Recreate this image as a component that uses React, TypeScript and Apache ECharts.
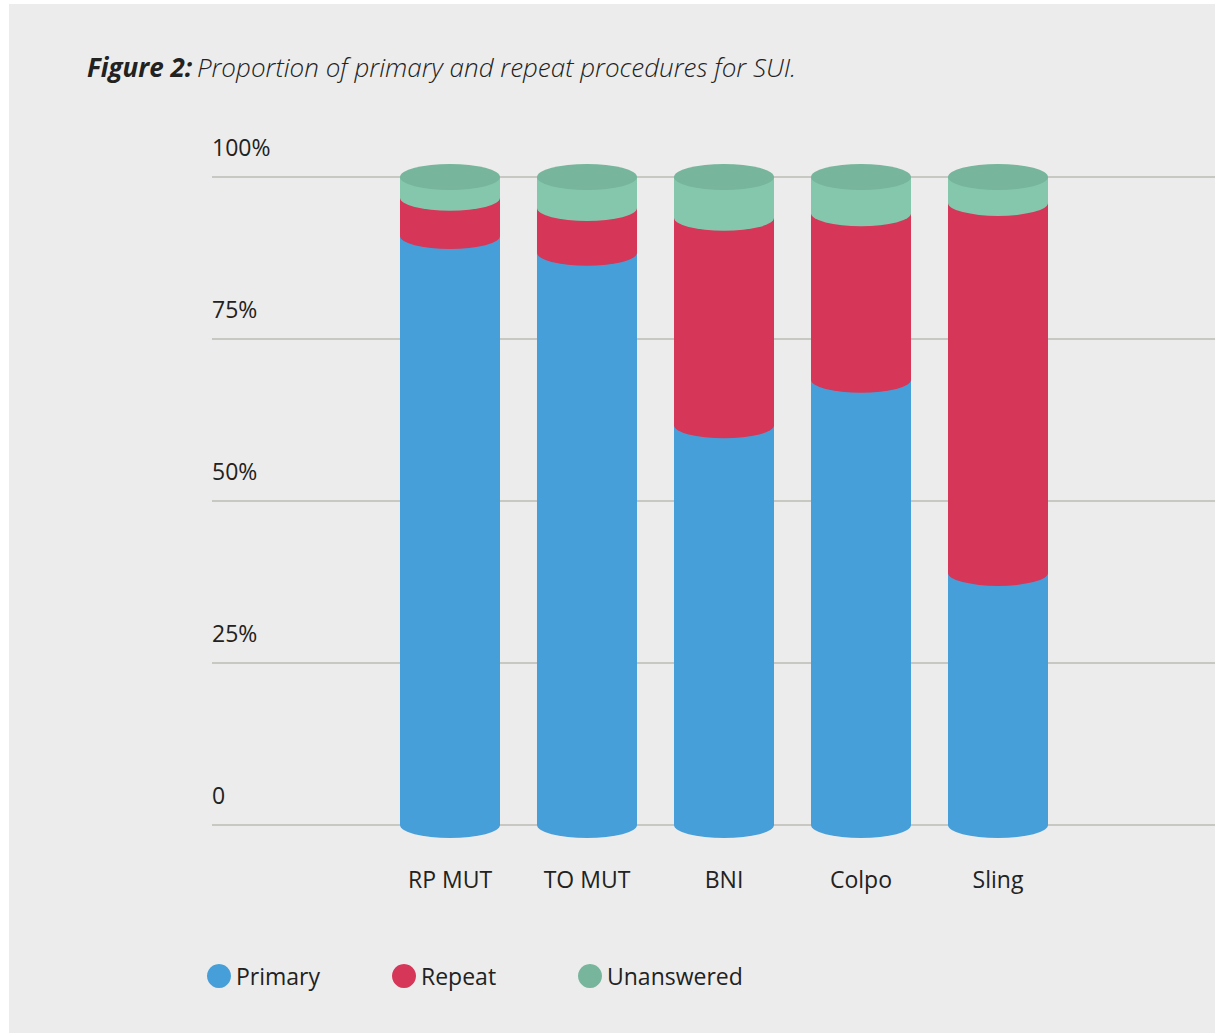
import React, { useEffect, useRef } from "react";
import * as echarts from "echarts";

const categories = ["RP MUT", "TO MUT", "BNI", "Colpo", "Sling"];
const primary = [90.9, 88.3, 61.7, 68.7, 38.9];
const repeat = [5.9, 6.9, 32.0, 25.7, 57.1];
const unanswered = [3.2, 4.8, 6.3, 5.6, 4.0];
const yTicks = [0, 25, 50, 75, 100];

const seriesNames = ["Primary", "Repeat", "Unanswered"];
const seriesValues = [primary, repeat, unanswered];
const seriesColors = ["#479fd9", "#d63658", "#84c7ad"];
const legendColors = ["#479fd9", "#d63658", "#77b59c"];
const topColor = "#77b59c";

const FONT = "'Open Sans', 'Noto Sans', sans-serif";

export default function App() {
  const ref = useRef<HTMLDivElement>(null);
  useEffect(() => {
    document.body.style.margin = "0";
    const chart = echarts.init(ref.current!, null, { renderer: "svg" });

    const series: any[] = [];
    seriesValues.forEach((vals, si) => {
      const data = categories.map((_, i) => {
        let bottom = 0;
        for (let k = 0; k < si; k++) bottom += seriesValues[k][i];
        return [i, bottom, bottom + vals[i]];
      });
      const isTop = si === seriesValues.length - 1;
      series.push({
        name: seriesNames[si],
        type: "custom",
        xAxisIndex: 1,
        yAxisIndex: 1,
        itemStyle: { color: legendColors[si] },
        data,
        renderItem: (params: any, api: any) => {
          const idx = api.value(0);
          const b = api.coord([idx, api.value(1)]);
          const t = api.coord([idx, api.value(2)]);
          const band = api.size([1, 0])[0];
          const w = band * 0.73;
          const rx = w / 2;
          const ry = 13;
          const xl = b[0] - rx;
          const xr = b[0] + rx;
          const yb = b[1];
          const yt = t[1];
          const d =
            `M${xl} ${yt} L${xr} ${yt} L${xr} ${yb} ` +
            `A${rx} ${ry} 0 0 1 ${xl} ${yb} Z`;
          const children: any[] = [
            {
              type: "path",
              shape: { pathData: d },
              style: { fill: seriesColors[si] },
            },
          ];
          if (isTop) {
            const e =
              `M${xr} ${yt} A${rx} ${ry} 0 0 1 ${xl} ${yt} ` +
              `A${rx} ${ry} 0 0 1 ${xr} ${yt} Z`;
            children.push({
              type: "path",
              shape: { pathData: e },
              style: { fill: topColor },
            });
          }
          return { type: "group", children };
        },
      });
    });
    series.push({
      type: "line",
      xAxisIndex: 0,
      yAxisIndex: 0,
      data: [],
      silent: true,
    });

    const legendLefts = [193, 378, 564];

    chart.setOption({
      animation: false,
      backgroundColor: "#ececec",
      textStyle: { fontFamily: FONT },
      title: {
        left: 73,
        top: 45,
        text: "{b|Figure 2:} {n|Proportion of primary and repeat procedures for SUI.}",
        textStyle: {
          rich: {
            b: {
              fontFamily: FONT,
              fontSize: 26,
              fontStyle: "italic",
              fontWeight: "bold",
              color: "#222222",
            },
            n: {
              fontFamily: FONT,
              fontSize: 26,
              fontStyle: "italic",
              fontWeight: 300,
              color: "#222222",
            },
          },
        },
      },
      legend: seriesNames.map((n, i) => ({
        data: [n],
        left: legendLefts[i],
        top: 955,
        icon: "circle",
        itemWidth: 24,
        itemHeight: 24,
        itemGap: 6,
        selectedMode: false,
        textStyle: { fontFamily: FONT, fontSize: 23, color: "#222222" },
      })),
      grid: [
        { left: 203, right: 0, top: 173, height: 648 },
        { left: 372.5, width: 685, top: 173, height: 648 },
      ],
      xAxis: [
        {
          gridIndex: 0,
          type: "value",
          min: 0,
          max: 1,
          show: false,
        },
        {
          gridIndex: 1,
          type: "category",
          data: categories,
          axisLine: { show: false },
          axisTick: { show: false },
          axisLabel: {
            margin: 42,
            fontFamily: FONT,
            fontSize: 23,
            color: "#222222",
          },
        },
      ],
      yAxis: [
        {
          gridIndex: 0,
          type: "value",
          min: 0,
          max: 100,
          interval: 25,
          axisLine: { show: false },
          axisTick: { show: false },
          splitLine: { lineStyle: { color: "#bcbcb4", width: 1.5 } },
          axisLabel: {
            inside: true,
            margin: 0,
            align: "left",
            verticalAlign: "bottom",
            padding: [0, 0, 19, 0],
            fontFamily: FONT,
            fontSize: 23,
            color: "#222222",
            formatter: (v: number) =>
              yTicks.includes(v) ? (v === 0 ? "0" : v + "%") : "",
          },
        },
        {
          gridIndex: 1,
          type: "value",
          min: 0,
          max: 100,
          show: false,
        },
      ],
      series,
    });
    return () => chart.dispose();
  }, []);
  return (
    <div
      style={{
        position: "absolute",
        left: 9,
        top: 4,
        width: 1206,
        height: 1029,
        background: "#ececec",
      }}
    >
      <div ref={ref} style={{ width: 1206, height: 1029 }} />
    </div>
  );
}
